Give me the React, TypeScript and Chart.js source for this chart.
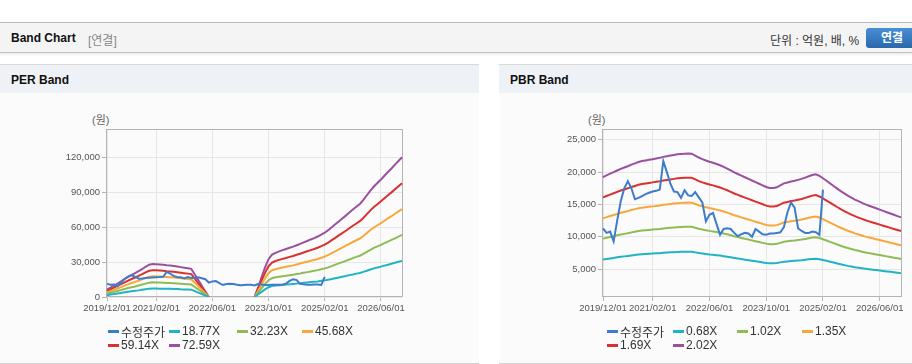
import React, { useEffect, useRef } from 'react';
import { Chart, registerables } from 'chart.js';

Chart.register(...registerables);

const FONT = '"Liberation Sans", "Noto Sans CJK KR", Arial, sans-serif';

// ---- categories (monthly) ----
const MONTHS = [
  '2019/12/01',
  '2020/01/01', '2020/02/01', '2020/03/01', '2020/04/01', '2020/05/01', '2020/06/01', '2020/07/01', '2020/08/01', '2020/09/01', '2020/10/01', '2020/11/01', '2020/12/01',
  '2021/01/01', '2021/02/01', '2021/03/01', '2021/04/01', '2021/05/01', '2021/06/01', '2021/07/01', '2021/08/01', '2021/09/01', '2021/10/01', '2021/11/01', '2021/12/01',
  '2022/01/01', '2022/02/01', '2022/03/01', '2022/04/01', '2022/05/01', '2022/06/01', '2022/07/01', '2022/08/01', '2022/09/01', '2022/10/01', '2022/11/01', '2022/12/01',
  '2023/01/01', '2023/02/01', '2023/03/01', '2023/04/01', '2023/05/01', '2023/06/01', '2023/07/01', '2023/08/01', '2023/09/01', '2023/10/01', '2023/11/01', '2023/12/01',
  '2024/01/01', '2024/02/01', '2024/03/01', '2024/04/01', '2024/05/01', '2024/06/01', '2024/07/01', '2024/08/01', '2024/09/01', '2024/10/01', '2024/11/01', '2024/12/01',
  '2025/01/01', '2025/02/01', '2025/03/01', '2025/04/01', '2025/05/01', '2025/06/01', '2025/07/01', '2025/08/01', '2025/09/01', '2025/10/01', '2025/11/01', '2025/12/01',
  '2026/01/01', '2026/02/01', '2026/03/01', '2026/04/01', '2026/05/01', '2026/06/01', '2026/07/01', '2026/08/01', '2026/09/01', '2026/10/01', '2026/11/01', '2026/12/01',
];

const X_TICK_LABELS = ['2019/12/01', '2021/02/01', '2022/06/01', '2023/10/01', '2025/02/01', '2026/06/01'];
const PER_Y_TICKS = [0, 30000, 60000, 90000, 120000];
const PBR_Y_TICKS = [5000, 10000, 15000, 20000, 25000];

// ---- adjusted share price (수정주가) ----
const PRICE = [
  11300, 10600, 10800, 9300, 12500, 15500, 17500, 18600, 17500, 15800,
  16000, 16300, 16600, 16800, 17000, 17100, 17300, 21700, 20000, 18200,
  17000, 16900, 16000, 17200, 16400, 16300, 16900, 16100, 15300, 12400,
  13400, 13700, 12000, 10300, 11200, 11300, 11200, 10600, 10100, 10400,
  10600, 10500, 10000, 11200, 10800, 10400, 10300, 10500, 10500, 10600,
  10700, 11500, 13800, 15300, 14500, 11300, 10900, 10600, 10600, 10800,
  10700, 10300, 17300,
];

// ---- PER band series ----
const PER_1877 = [
  1600, 2100, 2500, 3000, 3500, 4000, 4500, 4900, 5300, 5700,
  6200, 6700, 7200, 7300, 7300, 7200, 7200, 7100, 7000, 6900,
  6800, 6600, 6500, 6400, 6300, 5000, 3700, 2500, 1200, 0,
  null, null, null, null, null, null, null, null, null, null,
  null, null, 0, 2100, 4400, 6600, 8400, 9400, 9800, 10100,
  10400, 10700, 10900, 11200, 11500, 11800, 12200, 12500, 12800, 13100,
  13400, 13900, 14300, 14900, 15500, 16200, 16800, 17500, 18100, 18800,
  19400, 20100, 20700, 21600, 22600, 23700, 24600, 25300, 26100, 27000,
  27800, 28600, 29400, 30300, 31100,
];
const PER_3223 = [
  2800, 3600, 4400, 5200, 6000, 6900, 7700, 8400, 9100, 9900,
  10700, 11500, 12300, 12600, 12500, 12400, 12300, 12100, 12000, 11800,
  11600, 11400, 11200, 11000, 10700, 8600, 6400, 4300, 2100, 0,
  null, null, null, null, null, null, null, null, null, null,
  null, null, 0, 3600, 7500, 11300, 14400, 16200, 16900, 17400,
  17900, 18300, 18800, 19200, 19800, 20300, 20900, 21400, 22000, 22500,
  23100, 23800, 24600, 25500, 26600, 27800, 28900, 30000, 31100, 32200,
  33400, 34500, 35500, 37100, 38900, 40600, 42200, 43500, 44800, 46300,
  47700, 49100, 50500, 51900, 53400,
];
const PER_4568 = [
  4000, 5000, 6200, 7300, 8500, 9800, 10900, 12000, 13000, 14000,
  15100, 16400, 17500, 17800, 17700, 17600, 17400, 17200, 17000, 16700,
  16500, 16200, 15900, 15500, 15200, 12200, 9100, 6100, 3000, 0,
  null, null, null, null, null, null, null, null, null, null,
  null, null, 0, 5000, 10700, 16000, 20500, 23000, 23900, 24700,
  25400, 26000, 26600, 27200, 28000, 28800, 29600, 30300, 31200, 31900,
  32700, 33700, 34800, 36200, 37800, 39300, 40900, 42500, 44100, 45700,
  47300, 48800, 50300, 52500, 55100, 57600, 59800, 61700, 63600, 65600,
  67700, 69500, 71600, 73600, 75600,
];
const PER_5914 = [
  5100, 6500, 8000, 9500, 11000, 12600, 14100, 15500, 16800, 18100,
  19600, 21200, 22600, 23100, 23000, 22800, 22600, 22200, 22000, 21700,
  21300, 20900, 20500, 20100, 19700, 15800, 11800, 7900, 3900, 0,
  null, null, null, null, null, null, null, null, null, null,
  null, null, 0, 6500, 13800, 20800, 26500, 29700, 31000, 31900,
  32800, 33600, 34500, 35300, 36300, 37200, 38300, 39300, 40300, 41300,
  42400, 43700, 45100, 46800, 48900, 50900, 53000, 55000, 57000, 59100,
  61300, 63200, 65200, 68000, 71300, 74500, 77400, 79800, 82300, 85000,
  87600, 90000, 92700, 95300, 97900,
];
const PER_7259 = [
  6300, 8000, 9800, 11600, 13500, 15500, 17300, 19000, 20600, 22200,
  24000, 26000, 27800, 28300, 28200, 28000, 27700, 27300, 27000, 26600,
  26200, 25700, 25200, 24700, 24200, 19400, 14500, 9700, 4800, 0,
  null, null, null, null, null, null, null, null, null, null,
  null, null, 0, 8000, 17000, 25500, 32500, 36500, 38000, 39200,
  40300, 41300, 42300, 43300, 44500, 45700, 47000, 48200, 49500, 50700,
  52000, 53600, 55300, 57500, 60000, 62500, 65000, 67500, 70000, 72600,
  75200, 77600, 80000, 83500, 87500, 91500, 95000, 98000, 101000, 104300,
  107500, 110500, 113800, 117000, 120200,
];

// ---- PBR band series ----
const PBR_068 = [
  6470, 6560, 6650, 6730, 6820, 6900, 6970, 7040, 7120, 7190,
  7250, 7300, 7340, 7370, 7410, 7440, 7470, 7520, 7560, 7590,
  7620, 7660, 7670, 7690, 7700, 7690, 7590, 7490, 7410, 7340,
  7270, 7220, 7150, 7090, 7000, 6920, 6820, 6720, 6630, 6550,
  6460, 6380, 6290, 6210, 6130, 6040, 5960, 5910, 5910, 5940,
  6040, 6140, 6190, 6240, 6280, 6330, 6380, 6450, 6510, 6580,
  6610, 6530, 6410, 6280, 6140, 6010, 5870, 5740, 5620, 5500,
  5400, 5300, 5220, 5130, 5050, 4980, 4910, 4850, 4780, 4710,
  4650, 4580, 4510, 4440, 4380,
];
const PBR_102 = [
  9710, 9850, 9970, 10100, 10230, 10350, 10450, 10550, 10680, 10780,
  10880, 10960, 11010, 11060, 11110, 11160, 11210, 11290, 11340, 11390,
  11440, 11490, 11510, 11540, 11550, 11540, 11390, 11240, 11110, 11010,
  10910, 10830, 10730, 10630, 10500, 10380, 10230, 10070, 9950, 9820,
  9700, 9570, 9440, 9320, 9190, 9060, 8940, 8860, 8860, 8910,
  9060, 9220, 9290, 9370, 9420, 9490, 9570, 9670, 9770, 9870,
  9920, 9800, 9620, 9420, 9220, 9010, 8810, 8610, 8430, 8260,
  8100, 7950, 7830, 7700, 7570, 7470, 7370, 7270, 7170, 7070,
  6970, 6870, 6770, 6670, 6560,
];
const PBR_135 = [
  12850, 13030, 13200, 13370, 13530, 13700, 13830, 13970, 14130, 14270,
  14400, 14500, 14570, 14640, 14700, 14770, 14840, 14940, 15000, 15070,
  15140, 15200, 15240, 15270, 15280, 15270, 15070, 14870, 14700, 14570,
  14440, 14340, 14200, 14070, 13900, 13730, 13530, 13330, 13170, 13000,
  12830, 12660, 12500, 12330, 12160, 12000, 11830, 11730, 11730, 11800,
  12000, 12200, 12300, 12400, 12460, 12560, 12660, 12800, 12930, 13070,
  13130, 12970, 12730, 12460, 12200, 11930, 11660, 11400, 11160, 10930,
  10730, 10530, 10360, 10190, 10020, 9890, 9760, 9620, 9490, 9360,
  9220, 9090, 8960, 8820, 8690,
];
const PBR_169 = [
  16090, 16310, 16520, 16730, 16940, 17150, 17320, 17490, 17690, 17860,
  18030, 18150, 18240, 18320, 18410, 18490, 18570, 18700, 18780, 18870,
  18950, 19030, 19080, 19120, 19130, 19120, 18870, 18610, 18410, 18240,
  18070, 17950, 17780, 17610, 17400, 17190, 16940, 16690, 16480, 16270,
  16060, 15850, 15650, 15440, 15230, 15020, 14810, 14680, 14680, 14770,
  15020, 15270, 15390, 15520, 15600, 15730, 15850, 16020, 16190, 16360,
  16440, 16230, 15940, 15600, 15270, 14930, 14600, 14260, 13970, 13680,
  13430, 13180, 12970, 12760, 12550, 12380, 12210, 12050, 11880, 11710,
  11550, 11380, 11210, 11040, 10880,
];
const PBR_202 = [
  19230, 19500, 19750, 20000, 20250, 20500, 20700, 20900, 21150, 21350,
  21550, 21700, 21800, 21900, 22000, 22100, 22200, 22350, 22450, 22550,
  22650, 22750, 22800, 22850, 22870, 22850, 22550, 22250, 22000, 21800,
  21600, 21450, 21250, 21050, 20800, 20550, 20250, 19950, 19700, 19450,
  19200, 18950, 18700, 18450, 18200, 17950, 17700, 17550, 17550, 17650,
  17950, 18250, 18400, 18550, 18650, 18800, 18950, 19150, 19350, 19550,
  19650, 19400, 19050, 18650, 18250, 17850, 17450, 17050, 16700, 16350,
  16050, 15750, 15500, 15250, 15000, 14800, 14600, 14400, 14200, 14000,
  13800, 13600, 13400, 13200, 13000,
];

const PER_LABELS = ['수정주가', '18.77X', '32.23X', '45.68X', '59.14X', '72.59X'];
const PBR_LABELS = ['수정주가', '0.68X', '1.02X', '1.35X', '1.69X', '2.02X'];
const COLORS = ['#3d7ccb', '#1fb3c5', '#8fbb55', '#f8a83a', '#d93030', '#9b4f9f'];

const PER_SERIES = [PRICE, PER_1877, PER_3223, PER_4568, PER_5914, PER_7259];
const PBR_SERIES = [PRICE, PBR_068, PBR_102, PBR_135, PBR_169, PBR_202];

const boxPlugin = {
  id: 'plotBox',
  beforeDatasetsDraw(chart: any) {
    const { ctx, chartArea: a } = chart;
    ctx.save();
    ctx.strokeStyle = '#b4b4b4';
    ctx.lineWidth = 1;
    ctx.strokeRect(Math.round(a.left) - 0.5, Math.round(a.top) + 0.5, Math.round(a.right - a.left) + 1, Math.round(a.bottom - a.top) - 1);
    ctx.restore();
  },
};

type ChartProps = {
  labels: string[];
  series: (number | null)[][];
  yMin: number;
  yMax: number;
  yTicks: number[];
  yAxisWidth: number;
  padRight: number;
  width: number;
  height: number;
};

function BandChart(p: ChartProps) {
  const ref = useRef<HTMLCanvasElement>(null);
  useEffect(() => {
    const chart = new Chart(ref.current as HTMLCanvasElement, {
      type: 'line',
      data: {
        labels: MONTHS,
        datasets: p.series.map((d, i) => ({
          label: p.labels[i],
          data: d,
          borderColor: COLORS[i],
          backgroundColor: COLORS[i],
          borderWidth: 2,
          pointRadius: 0,
          tension: 0,
          fill: false,
          spanGaps: false,
        })),
      },
      options: {
        animation: false,
        responsive: false,
        maintainAspectRatio: false,
        devicePixelRatio: 1,
        layout: { padding: { top: 35, right: p.padRight, bottom: 7, left: 0 } },
        plugins: { legend: { display: false }, tooltip: { enabled: false } },
        scales: {
          x: {
            type: 'category',
            border: { display: false },
            grid: { color: '#e6e6e6', tickLength: 4, tickColor: '#b4b4b4' },
            afterBuildTicks: (axis: any) => {
              axis.ticks = axis.ticks.filter((t: any) => X_TICK_LABELS.includes(MONTHS[t.value]));
            },
            afterFit: (axis: any) => {
              axis.height = 20;
            },
            ticks: {
              autoSkip: false,
              maxRotation: 0,
              minRotation: 0,
              padding: 2,
              color: '#555',
              font: { family: FONT, size: 9.5 },
            },
          },
          y: {
            type: 'linear',
            min: p.yMin,
            max: p.yMax,
            border: { display: false },
            grid: { color: '#e6e6e6', tickLength: 5, tickColor: '#b4b4b4' },
            afterBuildTicks: (axis: any) => {
              axis.ticks = p.yTicks.map((v) => ({ value: v }));
            },
            afterFit: (axis: any) => {
              axis.width = p.yAxisWidth;
            },
            ticks: {
              padding: 2,
              color: '#555',
              font: { family: FONT, size: 9.5 },
              callback: (v: any) => Number(v).toLocaleString('en-US'),
            },
          },
        },
      },
      plugins: [boxPlugin],
    } as any);
    return () => chart.destroy();
  }, []);
  return (
    <canvas
      ref={ref}
      width={p.width}
      height={p.height}
      style={{ position: 'absolute', left: 0, top: 29, width: p.width, height: p.height }}
    />
  );
}

function Legend({ labels, cols }: { labels: string[]; cols: string }) {
  return (
    <div
      style={{
        position: 'absolute',
        left: 108,
        top: 259,
        display: 'grid',
        gridTemplateColumns: cols,
        gridAutoRows: '14px',
        fontFamily: FONT,
        fontSize: 12,
        color: '#333',
      }}
    >
      {labels.map((l, i) => (
        <div key={l} style={{ display: 'flex', alignItems: 'center', whiteSpace: 'nowrap' }}>
          <span style={{ display: 'inline-block', width: 11, height: 3, background: COLORS[i], marginRight: 2 }} />
          <span>{l}</span>
        </div>
      ))}
    </div>
  );
}

function Panel(props: {
  left: number;
  width: number;
  title: string;
  labels: string[];
  series: (number | null)[][];
  yMin: number;
  yMax: number;
  yTicks: number[];
  yAxisWidth: number;
  padRight: number;
  cols: string;
}) {
  return (
    <div
      style={{
        position: 'absolute',
        left: props.left,
        top: 64,
        width: props.width,
        height: 298,
        borderTop: '1px solid #d9d9d9',
        borderBottom: '1px solid #d3d3d3',
        background: '#fbfbfb',
        overflow: 'hidden',
      }}
    >
      <div
        style={{
          position: 'absolute',
          left: 0,
          top: 0,
          right: 0,
          height: 28,
          background: '#eef2f7',
          fontFamily: FONT,
          fontWeight: 'bold',
          fontSize: 12,
          color: '#111',
          lineHeight: '31px',
          paddingLeft: 11,
        }}
      >
        {props.title}
      </div>
      <div
        style={{
          position: 'absolute',
          left: props.yAxisWidth - 15,
          top: 46,
          fontFamily: FONT,
          fontSize: 11,
          color: '#666',
        }}
      >
        (원)
      </div>
      <BandChart
        labels={props.labels}
        series={props.series}
        yMin={props.yMin}
        yMax={props.yMax}
        yTicks={props.yTicks}
        yAxisWidth={props.yAxisWidth}
        padRight={props.padRight}
        width={props.width}
        height={230}
      />
      <Legend labels={props.labels} cols={props.cols} />
    </div>
  );
}

export default function App() {
  useEffect(() => {
    document.body.style.margin = '0';
  }, []);
  return (
    <div
      style={{
        position: 'absolute',
        left: 0,
        top: 0,
        width: 912,
        height: 364,
        background: '#fff',
        overflow: 'hidden',
        fontFamily: FONT,
      }}
    >
      <div
        style={{
          position: 'absolute',
          left: 0,
          top: 22,
          width: 912,
          height: 29,
          background: '#f4f4f4',
          borderTop: '1px solid #b9b9b9',
          borderBottom: '1px solid #c2c2c2',
          boxShadow: '0 2px 2px rgba(0,0,0,0.07)',
        }}
      >
        <span style={{ position: 'absolute', left: 11, top: 8, fontSize: 12, fontWeight: 'bold', color: '#111' }}>
          Band Chart
        </span>
        <span style={{ position: 'absolute', left: 88, top: 8, fontSize: 12, color: '#888' }}>[연결]</span>
        <span style={{ position: 'absolute', left: 770, top: 8, fontSize: 12, color: '#333' }}>단위 : 억원, 배, %</span>
        <div
          style={{
            position: 'absolute',
            left: 866,
            top: 5,
            width: 52,
            height: 20,
            borderRadius: 3,
            background: 'linear-gradient(#4a8ed6, #2a67ab)',
            color: '#fff',
            fontWeight: 'bold',
            fontSize: 12,
            lineHeight: '20px',
            paddingLeft: 15,
            boxSizing: 'border-box',
          }}
        >
          연결
        </div>
      </div>
      <Panel
        left={0}
        width={479}
        title="PER Band"
        labels={PER_LABELS}
        series={PER_SERIES}
        yMin={0}
        yMax={144500}
        yTicks={PER_Y_TICKS}
        yAxisWidth={107}
        padRight={77}
        cols="61px 68px 65px 60px"
      />
      <Panel
        left={499}
        width={413}
        title="PBR Band"
        labels={PBR_LABELS}
        series={PBR_SERIES}
        yMin={690}
        yMax={26660}
        yTicks={PBR_Y_TICKS}
        yAxisWidth={104}
        padRight={11}
        cols="66px 64px 65px 60px"
      />
    </div>
  );
}
